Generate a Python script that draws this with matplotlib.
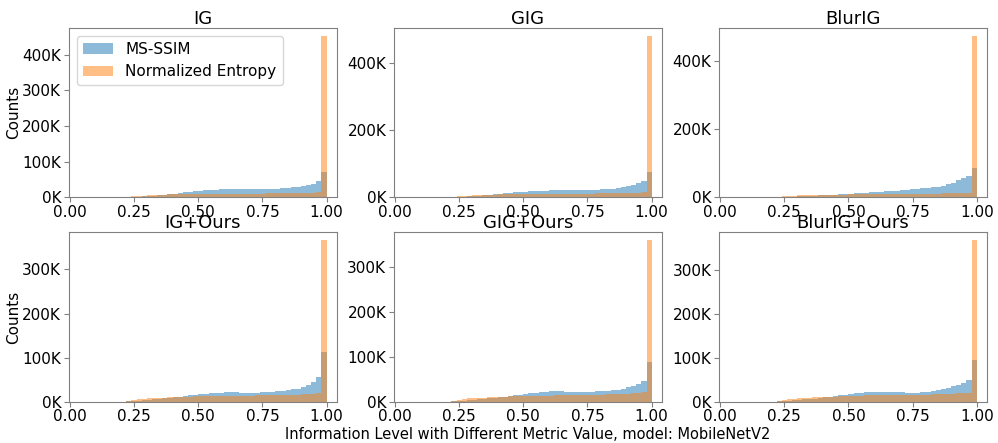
import matplotlib
matplotlib.use("Agg")
import matplotlib.pyplot as plt
import numpy as np
from matplotlib.ticker import FuncFormatter, MultipleLocator

# histogram bins of width 0.02 from 0.20 to 1.00 (nothing below 0.2); counts in thousands
bin_edges = np.linspace(0.2, 1.0, 41)

titles = ["IG", "GIG", "BlurIG", "IG+Ours", "GIG+Ours", "BlurIG+Ours"]

ig_ssim = [0.3, 0.8, 1.5, 2.5, 3.5, 4.5, 5.5, 6.5, 7.5, 9,
           10.5, 12, 14, 16, 17.5, 19, 20, 21, 22, 22.5,
           23, 23, 23, 23, 23, 23, 23, 23, 23.5, 24,
           25, 26, 27, 28.5, 30, 32, 35, 38, 46, 71]
ig_ent = [0.5, 1.5, 3, 4.5, 5.5, 6.5, 7, 7.5, 8, 8.5,
          9, 9.5, 10, 10, 10.5, 11, 11, 11, 11, 11,
          11, 11, 11, 11, 11, 11, 11, 11, 11.5, 11.5,
          11.5, 12, 12, 12, 12.5, 12.5, 13, 13, 14, 452]

gig_ssim = [0.3, 0.8, 1.5, 2.5, 3.5, 4.5, 5.5, 6.5, 7.5, 9,
            10.5, 12, 13.5, 15, 16.5, 17.5, 18.5, 19.5, 20, 20.5,
            21, 21, 21, 21, 21, 21, 21.5, 22, 22.5, 23,
            24, 25, 26.5, 28, 30, 33, 37, 42, 50, 75]
gig_ent = [0.5, 1.5, 3, 4.5, 5.5, 6.5, 7, 7.5, 8, 8.5,
           9, 9.5, 10, 10, 10.5, 10.5, 11, 11, 11, 11,
           11, 11, 11, 11, 11, 11, 11.5, 11.5, 11.5, 12,
           12, 12, 12.5, 12.5, 13, 13, 13.5, 14, 16, 479]

blur_ssim = [0.2, 0.6, 1.2, 1.8, 2.5, 3.2, 4, 4.8, 5.5, 6.3,
             7, 7.8, 8.5, 9.3, 10, 11, 12, 13, 14, 15,
             16, 17, 18, 19, 20, 21, 22, 23.5, 25, 26.5,
             28, 30, 32, 35, 39, 44, 50, 56, 64, 86]
blur_ent = [0.5, 1.5, 3, 4.5, 5.5, 6, 6.5, 7, 7, 7.5,
            7.5, 8, 8, 8.5, 8.5, 9, 9, 9, 9.5, 9.5,
            9.5, 10, 10, 10, 10, 10.5, 10.5, 10.5, 11, 11,
            11, 11.5, 11.5, 12, 12, 12.5, 13, 13.5, 14, 475]

ig_ours_ssim = [0.3, 0.8, 1.5, 2.5, 3.5, 4.5, 5.5, 6.5, 7.5, 8.5,
                10, 11.5, 13, 14.5, 16, 17.5, 18.5, 19.5, 20.5, 21,
                21.5, 21.5, 21.5, 21, 21, 21, 21, 21.5, 22, 22.5,
                23.5, 24.5, 26, 28, 30, 33, 37, 44, 56, 114]
ig_ours_ent = [0.5, 2, 4, 5.5, 7, 8, 8.5, 9, 9.5, 10,
               10.5, 11, 11.5, 12, 12.5, 13, 13, 13.5, 13.5, 13.5,
               14, 14, 14, 14, 14, 14, 14.5, 14.5, 14.5, 15,
               15, 15.5, 15.5, 16, 16.5, 17, 17.5, 18.5, 20, 366]

gig_ours_ssim = [0.3, 0.8, 1.5, 2.5, 3.5, 4.5, 5.5, 6.5, 7.5, 8.5,
                 10, 11.5, 13, 14.5, 16, 17.5, 19, 20.5, 21.5, 22.5,
                 23, 23, 23, 22.5, 22, 22, 22, 22, 22.5, 23,
                 23.5, 24.5, 25.5, 27, 29, 32, 35, 40, 47, 89]
gig_ours_ent = [0.5, 2, 4, 6, 7.5, 8.5, 9, 9.5, 10, 10.5,
                11, 11.5, 12, 12.5, 13, 13, 13.5, 13.5, 14, 14,
                14, 14.5, 14.5, 14.5, 15, 15, 15, 15.5, 15.5, 16,
                16, 16.5, 17, 17.5, 18, 18.5, 19, 20, 21, 360]

blur_ours_ssim = [0.3, 0.8, 1.5, 2.5, 3.5, 4.5, 5.5, 6.5, 7.5, 8.5,
                  10, 11.5, 13, 14.5, 16, 17.5, 19, 20.5, 21.5, 22.5,
                  23, 23, 23, 22.5, 22, 21.5, 21, 21, 21, 21.5,
                  22.5, 24, 26, 28.5, 31, 35, 39, 43, 49, 95]
blur_ours_ent = [0.5, 2, 4, 6, 7.5, 8.5, 9, 9.5, 10, 10.5,
                 11, 11.5, 12, 12.5, 13, 13.5, 14, 14, 14.5, 14.5,
                 15, 15, 15, 15.5, 15.5, 15.5, 16, 16, 16, 16.5,
                 16.5, 17, 17, 17.5, 18, 18.5, 19, 20, 21, 367]

ssim_all = [ig_ssim, gig_ssim, blur_ssim, ig_ours_ssim, gig_ours_ssim, blur_ours_ssim]
ent_all = [ig_ent, gig_ent, blur_ent, ig_ours_ent, gig_ours_ent, blur_ours_ent]
ytick_steps = [100000, 200000, 200000, 100000, 100000, 100000]

fig, axes = plt.subplots(2, 3, figsize=(9.98, 4.43), dpi=100)
fig.subplots_adjust(left=0.069, right=0.989, top=0.937, bottom=0.093,
                    wspace=0.213, hspace=0.205)

centers = (bin_edges[:-1] + bin_edges[1:]) / 2
kfmt = FuncFormatter(lambda v, p: f"{int(round(v / 1000))}K")

for i, ax in enumerate(axes.flat):
    ax.hist(centers, bins=bin_edges, weights=np.array(ssim_all[i]) * 1000,
            histtype="stepfilled", alpha=0.5, color="tab:blue", label="MS-SSIM")
    ax.hist(centers, bins=bin_edges, weights=np.array(ent_all[i]) * 1000,
            histtype="stepfilled", alpha=0.5, color="tab:orange",
            label="Normalized Entropy")
    ax.set_title(titles[i], fontsize=13, pad=3)
    ax.set_xlim(-0.004, 1.04)
    ax.set_xticks([0, 0.25, 0.5, 0.75, 1.0])
    ax.xaxis.set_major_formatter(FuncFormatter(lambda v, p: f"{v:.2f}"))
    ax.yaxis.set_major_locator(MultipleLocator(ytick_steps[i]))
    ax.yaxis.set_major_formatter(kfmt)
    ax.tick_params(labelsize=11, color="gray", pad=2)
    for s in ax.spines.values():
        s.set_edgecolor("gray")

axes[0, 0].set_ylabel("Counts", fontsize=11, labelpad=1)
axes[1, 0].set_ylabel("Counts", fontsize=11, labelpad=1)
axes[0, 0].legend(loc="upper left", fontsize=11)
axes[1, 1].set_xlabel("Information Level with Different Metric Value, model: MobileNetV2",
                      fontsize=10.5, labelpad=2)

fig.savefig("out.png", dpi=100)
